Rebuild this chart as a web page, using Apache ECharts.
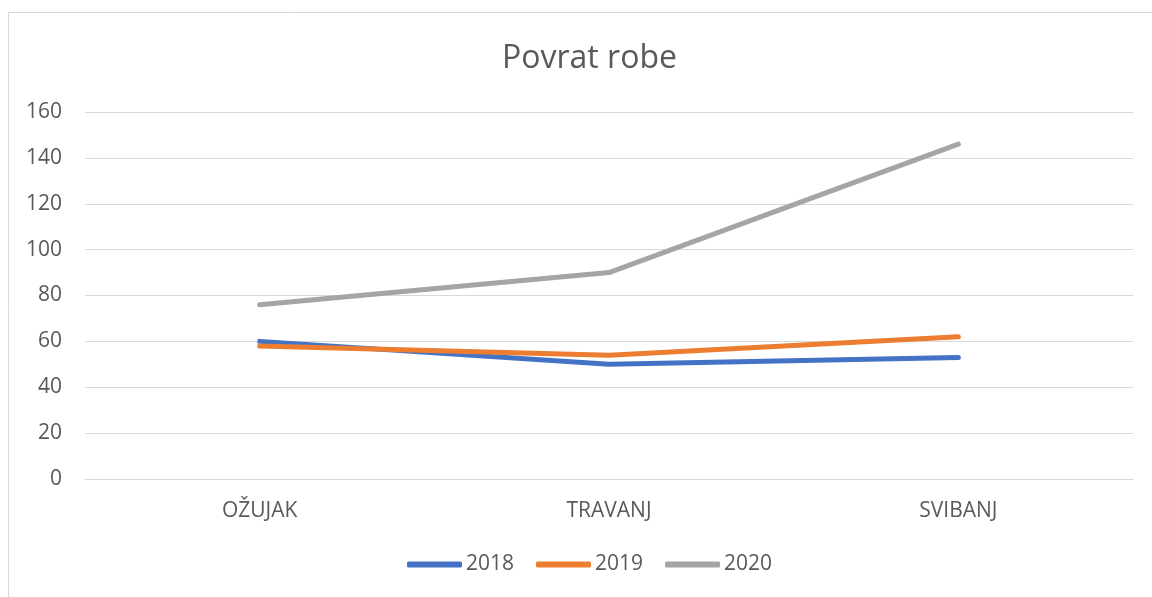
<!DOCTYPE html>
<html>
<head>
<meta charset="utf-8">
<script src="https://cdn.jsdelivr.net/npm/echarts@6/dist/echarts.min.js"></script>
<style>
html,body{margin:0;padding:0;background:#fff;}
#chart{width:1152px;height:597px;}
</style>
</head>
<body>
<div id="chart"></div>
<script>
const titleText = "Povrat robe";
const categories = ["OŽUJAK", "TRAVANJ", "SVIBANJ"];
const seriesNames = ["2018", "2019", "2020"];
const values2018 = [60, 50, 53];
const values2019 = [58, 54, 62];
const values2020 = [76, 90, 146];
const colors = ["#4472C4", "#ED7D31", "#A5A5A5"];

const font = "'Open Sans', sans-serif";
const allValues = [values2018, values2019, values2020];

const chart = echarts.init(document.getElementById('chart'), null, {renderer: 'canvas'});
chart.setOption({
  animation: false,
  backgroundColor: '#ffffff',
  graphic: [{
    type: 'rect',
    shape: {x: 8.5, y: 12.5, width: 1300, height: 800},
    style: {fill: 'none', stroke: '#D9D9D9', lineWidth: 1},
    silent: true
  }],
  title: {
    text: titleText,
    left: 497,
    top: 38,
    textStyle: {fontFamily: font, fontSize: 32, fontWeight: 'normal', color: '#595959'}
  },
  legend: {
    data: seriesNames,
    bottom: 17,
    left: 402,
    icon: 'roundRect',
    itemWidth: 55,
    itemHeight: 6,
    itemGap: 22,
    textStyle: {fontFamily: font, fontSize: 21, color: '#595959', padding: [0, 0, 0, -1]}
  },
  grid: {left: 85, right: 19, top: 112, bottom: 118},
  xAxis: {
    type: 'category',
    data: categories,
    boundaryGap: true,
    axisLine: {show: true, lineStyle: {color: '#D9D9D9', width: 1}},
    axisTick: {show: false},
    axisLabel: {fontFamily: font, fontSize: 21, color: '#595959', margin: 22}
  },
  yAxis: {
    type: 'value',
    min: 0, max: 160, interval: 20,
    axisLine: {show: false},
    axisTick: {show: false},
    splitLine: {lineStyle: {color: '#D9D9D9', width: 1}},
    axisLabel: {fontFamily: font, fontSize: 21, color: '#595959', margin: 23}
  },
  series: seriesNames.map((name, i) => ({
    name: name,
    type: 'line',
    data: allValues[i],
    symbol: 'none',
    smooth: false,
    color: colors[i],
    lineStyle: {color: colors[i], width: 5, cap: 'round', join: 'round'}
  }))
});
</script>
</body>
</html>
